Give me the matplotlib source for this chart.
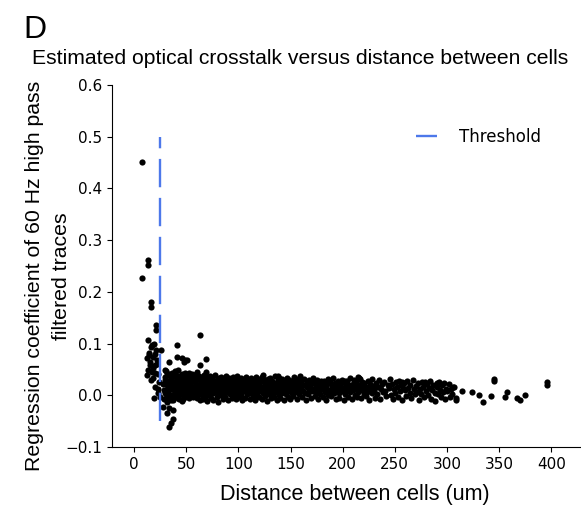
import numpy as np
import matplotlib
matplotlib.use("Agg")
import matplotlib.pyplot as plt

# close pairs, left of / around the threshold
near_x = [7.5, 13.6, 13.8, 7.8, 16.0, 16.0, 21.0, 21.4, 13.6, 16.0,
          19.2, 21.4, 26.3, 14.6, 18.5, 15.3, 20.1, 13.4, 16.9, 23.0,
          18.3, 20.1, 23.0, 19.2, 24.8, 23.0,
          12.5, 14.0, 17.5, 19.8, 22.3, 15.0, 17.8, 12.8, 20.5, 22.0, 16.5, 24.0]
near_y = [0.45, 0.262, 0.252, 0.226, 0.18, 0.17, 0.135, 0.126, 0.106, 0.093,
          0.10, 0.087, 0.087, 0.077, 0.074, 0.064, 0.058, 0.048, 0.045, 0.042,
          0.033, 0.016, 0.013, -0.006, -0.003, 0.004,
          0.072, 0.082, 0.098, 0.079, 0.068, 0.058, 0.052, 0.040, 0.043, 0.060, 0.030, 0.025]

# negative dip just right of threshold
neg_x = [27.8, 33.5, 37.0, 31.2, 37.0, 35.0, 33.1]
neg_y = [-0.023, -0.025, -0.029, -0.035, -0.045, -0.054, -0.061]

# points sitting above the main band
hi_x = [40.9, 63.3, 40.9, 45.8, 47.7, 69.2, 63.3, 33.1, 69.2, 60.4,
        29.7, 48.7, 50.6, 123.4, 137.8, 158.9, 214.4, 256.5, 290.0, 202.0,
        215.3, 278.5]
hi_y = [0.097, 0.116, 0.074, 0.073, 0.064, 0.071, 0.058, 0.064, 0.045, 0.045,
        0.048, 0.068, 0.068, 0.040, 0.037, 0.037, 0.035, 0.025, 0.023, 0.027,
        0.033, 0.025]

# main band 28-60 um
a_x = [28.2, 28.9, 29.5, 30.1, 30.6, 31.2, 31.8, 32.3, 32.9, 33.4,
       34.0, 34.6, 35.1, 35.7, 36.2, 36.8, 37.3, 37.9, 38.4, 39.0,
       39.6, 40.1, 40.7, 41.2, 41.8, 42.3, 42.9, 43.5, 44.0, 44.6,
       45.1, 45.7, 46.2, 46.8, 47.4, 47.9, 48.5, 49.0, 49.6, 50.1,
       50.7, 51.3, 51.8, 52.4, 52.9, 53.5, 54.0, 54.6, 55.2, 55.7,
       56.3, 56.8, 57.4, 57.9, 58.5, 59.1, 59.6,
       28.6, 29.3, 30.4, 31.0, 31.9, 32.7, 33.6, 34.3, 35.0, 35.9,
       36.5, 37.4, 38.1, 38.8, 39.7, 40.4, 41.0, 41.9, 42.6, 43.3,
       44.2, 44.9, 45.5, 46.4, 47.1, 47.8, 48.7, 49.3, 50.2, 50.9,
       51.6, 52.5, 53.2, 53.8, 54.7, 55.4, 56.1, 57.0, 57.7, 58.4]
a_y = [0.021, -0.008, 0.035, 0.004, 0.046, 0.012, -0.012, 0.028, 0.008, 0.041,
       -0.004, 0.018, 0.032, 0.001, 0.024, 0.043, -0.009, 0.015, 0.037, 0.006,
       0.026, -0.002, 0.039, 0.011, 0.022, 0.048, -0.007, 0.017, 0.033, 0.003,
       0.029, 0.014, -0.011, 0.036, 0.009, 0.024, 0.044, -0.003, 0.019, 0.031,
       0.007, 0.026, 0.038, -0.006, 0.013, 0.022, 0.034, 0.002, 0.017, 0.041,
       0.010, -0.004, 0.027, 0.015, 0.035, 0.005, 0.021,
       0.010, 0.030, -0.006, 0.022, 0.040, 0.005, 0.016, 0.027, -0.010, 0.034,
       0.013, 0.001, 0.025, 0.046, 0.008, 0.019, 0.032, -0.005, 0.014, 0.038,
       0.004, 0.023, 0.011, 0.042, -0.008, 0.020, 0.006, 0.036, 0.015, 0.028,
       -0.002, 0.044, 0.009, 0.024, 0.017, 0.030, 0.000, 0.012, 0.039, 0.026]

# main band 60-110 um
b_x = [60.2, 60.6, 61.1, 61.5, 62.0, 62.4, 62.9, 63.3, 63.8, 64.2,
       64.7, 65.1, 65.6, 66.0, 66.5, 66.9, 67.4, 67.8, 68.3, 68.7,
       69.2, 69.6, 70.1, 70.5, 71.0, 71.4, 71.9, 72.3, 72.8, 73.2,
       73.7, 74.1, 74.6, 75.0, 75.5, 75.9, 76.4, 76.8, 77.3, 77.7,
       78.2, 78.6, 79.1, 79.5, 80.0, 80.4, 80.9, 81.3, 81.8, 82.2,
       82.7, 83.1, 83.6, 84.0, 84.5, 84.9, 85.4, 85.8, 86.3, 86.7,
       87.2, 87.6, 88.1, 88.5, 89.0, 89.4, 89.9, 90.3, 90.8, 91.2,
       91.7, 92.1, 92.6, 93.0, 93.5, 93.9, 94.4, 94.8, 95.3, 95.7,
       96.2, 96.6, 97.1, 97.5, 98.0, 98.4, 98.9, 99.3, 99.8, 100.2,
       100.7, 101.1, 101.6, 102.0, 102.5, 102.9, 103.4, 103.8, 104.3, 104.7,
       105.2, 105.6, 106.1, 106.5, 107.0, 107.4, 107.9, 108.3, 108.8, 109.2]
b_y = [0.012, -0.006, 0.031, 0.020, 0.003, 0.038, 0.009, -0.010, 0.024, 0.015,
       0.033, 0.001, 0.018, 0.027, -0.008, 0.011, 0.040, 0.006, 0.022, -0.002,
       0.029, 0.014, -0.011, 0.035, 0.008, 0.019, 0.002, 0.026, 0.037, 0.010,
       -0.005, 0.023, 0.016, 0.032, 0.004, -0.009, 0.028, 0.013, 0.021, 0.039,
       0.007, 0.017, -0.003, 0.030, 0.011, 0.025, -0.012, 0.019, 0.034, 0.005,
       0.014, 0.036, 0.000, 0.022, 0.009, 0.028, -0.007, 0.016, 0.031, 0.003,
       0.024, -0.004, 0.012, 0.037, 0.018, 0.006, 0.027, -0.010, 0.020, 0.033,
       0.010, 0.002, 0.029, 0.015, -0.006, 0.023, 0.035, 0.008, 0.017, -0.001,
       0.026, 0.013, 0.032, -0.008, 0.019, 0.004, 0.038, 0.011, 0.021, 0.007,
       -0.003, 0.030, 0.016, 0.025, 0.001, 0.034, 0.012, -0.009, 0.022, 0.018,
       0.008, 0.027, -0.005, 0.014, 0.036, 0.020, 0.003, 0.029, 0.010, 0.024]

# main band 110-160 um
c_x = [109.7, 110.2, 110.8, 111.3, 111.8, 112.2, 112.7, 113.3, 113.8, 114.2,
       114.7, 115.3, 115.8, 116.2, 116.7, 117.3, 117.8, 118.2, 118.7, 119.3,
       119.8, 120.2, 120.7, 121.3, 121.8, 122.2, 122.7, 123.3, 123.8, 124.2,
       124.7, 125.3, 125.8, 126.2, 126.7, 127.3, 127.8, 128.2, 128.7, 129.3,
       129.8, 130.2, 130.7, 131.3, 131.8, 132.2, 132.7, 133.3, 133.8, 134.2,
       134.7, 135.3, 135.8, 136.2, 136.7, 137.3, 137.8, 138.2, 138.7, 139.3,
       139.8, 140.2, 140.7, 141.3, 141.8, 142.2, 142.7, 143.3, 143.8, 144.2,
       144.7, 145.3, 145.8, 146.2, 146.7, 147.3, 147.8, 148.2, 148.7, 149.3,
       149.8, 150.2, 150.7, 151.3, 151.8, 152.2, 152.7, 153.3, 153.8, 154.2,
       154.7, 155.3, 155.8, 156.2, 156.7, 157.3, 157.8, 158.2, 158.7, 159.3]
c_y = [0.018, 0.004, 0.027, -0.007, 0.013, 0.033, 0.009, 0.021, -0.002, 0.015,
       0.029, 0.006, -0.010, 0.019, 0.035, 0.011, 0.024, 0.001, 0.016, 0.031,
       -0.004, 0.022, 0.008, 0.028, 0.014, -0.008, 0.036, 0.017, 0.005, 0.025,
       0.012, 0.030, -0.001, 0.020, 0.007, 0.026, -0.011, 0.015, 0.032, 0.003,
       0.023, 0.010, 0.034, -0.006, 0.018, 0.028, 0.002, 0.013, 0.021, -0.003,
       0.016, 0.037, 0.006, 0.024, -0.009, 0.011, 0.029, 0.019, 0.000, 0.033,
       0.009, -0.005, 0.022, 0.014, 0.031, 0.004, 0.018, 0.026, -0.010, 0.012,
       0.027, 0.015, 0.003, 0.034, 0.010, -0.004, 0.020, 0.008, 0.030, 0.017,
       -0.007, 0.024, 0.012, 0.005, 0.028, 0.019, -0.002, 0.035, 0.014, 0.022,
       0.006, 0.031, 0.016, -0.008, 0.025, 0.010, 0.020, 0.002, 0.029, 0.013]

# main band 160-230 um
d_x = [159.8, 160.5, 161.2, 161.9, 162.6, 163.3, 164.0, 164.7, 165.4, 166.1,
       166.8, 167.5, 168.2, 168.9, 169.6, 170.3, 171.0, 171.7, 172.4, 173.1,
       173.8, 174.5, 175.2, 175.9, 176.6, 177.3, 178.0, 178.7, 179.4, 180.1,
       180.8, 181.5, 182.2, 182.9, 183.6, 184.3, 185.0, 185.7, 186.4, 187.1,
       187.8, 188.5, 189.2, 189.9, 190.6, 191.3, 192.0, 192.7, 193.4, 194.1,
       194.8, 195.5, 196.2, 196.9, 197.6, 198.3, 199.0, 199.7, 200.4, 201.1,
       201.8, 202.5, 203.2, 203.9, 204.6, 205.3, 206.0, 206.7, 207.4, 208.1,
       208.8, 209.5, 210.2, 210.9, 211.6, 212.3, 213.0, 213.7, 214.4, 215.1,
       215.8, 216.5, 217.2, 217.9, 218.6, 219.3, 220.0, 220.7, 221.4, 222.1,
       222.8, 223.5, 224.2, 224.9, 225.6, 226.3, 227.0, 227.7, 228.4, 229.1]
d_y = [0.014, 0.026, -0.003, 0.009, 0.020, 0.032, 0.005, -0.009, 0.017, 0.023,
       0.002, 0.029, 0.011, 0.018, -0.006, 0.025, 0.008, 0.033, 0.013, -0.001,
       0.021, 0.006, 0.030, -0.008, 0.016, 0.010, 0.024, 0.003, 0.028, 0.012,
       -0.004, 0.019, 0.027, 0.007, 0.015, -0.010, 0.022, 0.031, 0.001, 0.011,
       0.025, 0.009, -0.002, 0.018, 0.034, 0.005, 0.014, 0.023, -0.007, 0.020,
       0.012, 0.028, 0.004, -0.005, 0.021, 0.016, 0.030, 0.008, 0.013, -0.009,
       0.024, 0.002, 0.017, 0.027, 0.010, -0.003, 0.019, 0.033, 0.006, 0.015,
       -0.008, 0.022, 0.011, 0.029, 0.001, 0.018, 0.025, -0.004, 0.013, 0.007,
       0.020, 0.031, -0.006, 0.010, 0.026, 0.016, 0.003, 0.023, 0.012, -0.002,
       0.017, 0.006, 0.028, 0.013, -0.009, 0.021, 0.009, 0.032, 0.004, 0.018]

# main band 230-300 um
e_x = [230.0, 231.1, 232.0, 232.9, 234.1, 235.0, 236.0, 237.1, 237.9, 239.0,
       240.1, 241.0, 241.9, 243.1, 244.0, 245.0, 246.1, 246.9, 248.0, 249.1,
       250.0, 250.9, 252.1, 253.0, 254.0, 255.1, 255.9, 257.0, 258.1, 259.0,
       259.9, 261.1, 262.0, 263.0, 264.1, 264.9, 266.0, 267.1, 268.0, 268.9,
       270.1, 271.0, 272.0, 273.1, 273.9, 275.0, 276.1, 277.0, 277.9, 279.1,
       280.0, 281.0, 282.1, 282.9, 284.0, 285.1, 286.0, 286.9, 288.1, 289.0,
       290.0, 291.1, 291.9, 293.0, 294.1, 295.0, 295.9, 297.1, 298.0, 299.0]
e_y = [0.011, -0.005, 0.024, 0.003, 0.017, 0.029, -0.008, 0.013, 0.021, 0.006,
       0.026, 0.009, -0.002, 0.019, 0.014, 0.031, 0.001, 0.022, -0.007, 0.012,
       0.004, 0.025, 0.016, -0.004, 0.028, 0.008, 0.019, -0.010, 0.014, 0.023,
       0.010, -0.001, 0.027, 0.015, 0.005, 0.020, -0.006, 0.030, 0.012, 0.002,
       0.018, 0.007, 0.024, -0.009, 0.013, 0.003, 0.026, 0.016, -0.003, 0.021,
       0.009, 0.022, 0.001, 0.014, 0.028, -0.007, 0.011, 0.019, 0.005, -0.011,
       0.016, 0.003, 0.025, 0.010, -0.004, 0.020, 0.007, 0.023, -0.008, 0.013]

# sparse tail beyond 300 um
far_x = [300.5, 301.8, 302.9, 304.0, 305.2, 306.1, 307.0, 308.4, 309.0,
         314.0, 324.0, 331.0, 335.0, 342.0, 345.0, 345.2, 356.0, 358.0, 367.0,
         370.0, 375.0, 396.0, 396.2]
far_y = [0.008, 0.021, -0.004, 0.012, 0.002, 0.017, 0.016, -0.006, -0.010,
         0.008, 0.006, 0.000, -0.012, -0.002, 0.031, 0.027, -0.003, 0.006, -0.006,
         -0.010, 0.000, 0.025, 0.020]

threshold = 25

dist = np.concatenate([near_x, neg_x, hi_x, a_x, b_x, c_x, d_x, e_x, far_x])
coef = np.concatenate([near_y, neg_y, hi_y, a_y, b_y, c_y, d_y, e_y, far_y])

arial = "Liberation Sans"

fig = plt.figure(figsize=(5.81, 5.08), dpi=100)
# the panel is cropped on the right, so the axes run to the figure edge
ax = fig.add_axes([0.193, 0.12, 0.807, 0.713])

ax.scatter(dist, coef, s=20, color="black", linewidths=0, zorder=2)
ax.plot([threshold, threshold], [-0.05, 0.5], color="#4d78ea", lw=1.7,
        dashes=(12, 4.5), label="Threshold", zorder=3)

ax.set_xlim(-21, 428.5)
ax.set_ylim(-0.1, 0.6)
ax.set_xticks([0, 50, 100, 150, 200, 250, 300, 350, 400])
ax.set_yticks([-0.1, 0.0, 0.1, 0.2, 0.3, 0.4, 0.5, 0.6])
ax.tick_params(labelsize=11)
ax.spines["top"].set_visible(False)
ax.spines["right"].set_visible(False)

ax.set_xlabel("Distance between cells (um)", fontfamily=arial, fontsize=15.5,
              labelpad=9)
ax.xaxis.label.set_x(0.518)

# two-line y label, one text per line
fig.text(0.060, 0.457, "Regression coefficient of 60 Hz high pass",
         fontfamily=arial, fontsize=15.3, rotation=90, ha="center", va="center")
fig.text(0.106, 0.457, "filtered traces",
         fontfamily=arial, fontsize=15.3, rotation=90, ha="center", va="center")

ax.legend(loc="upper right", bbox_to_anchor=(0.957, 0.777),
          bbox_transform=fig.transFigure, frameon=False,
          fontsize=12, handlelength=1.3, handletextpad=1.3)

fig.text(0.517, 0.874, "Estimated optical crosstalk versus distance between cells",
         fontfamily=arial, fontsize=15.2, ha="center", va="baseline")
fig.text(0.041, 0.925, "D", fontfamily=arial, fontsize=23, va="baseline")

fig.savefig("out.png", dpi=100)
